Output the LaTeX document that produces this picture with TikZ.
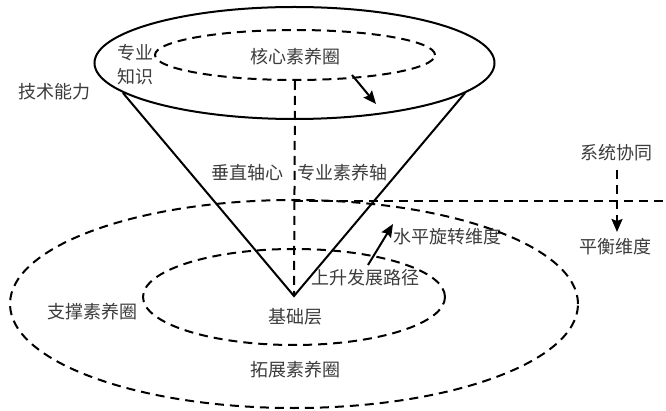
\documentclass[tikz,border=0pt]{standalone}
\usepackage{fontspec}
\setmainfont{Noto Sans CJK SC}
\usetikzlibrary{shapes.geometric,arrows.meta}
\definecolor{txtgray}{HTML}{3C3C3C}
\begin{document}
\begin{tikzpicture}[x=1pt,y=-1pt,
  solidline/.style={line width=2pt,black},
  dashline/.style={line width=2pt,black,dash pattern=on 9pt off 6pt},
  ring/.style={ellipse,inner sep=0pt,draw},
  lbl/.style={font=\fontsize{18}{24}\selectfont,text=txtgray,inner sep=0pt,align=center},
  arr/.style={-{Stealth[length=13pt,width=11pt,inset=2pt]}}
]
\useasboundingbox[fill=white] (0,0) rectangle (666,411);
% rings
\node[ring,solidline,minimum width=400pt,minimum height=112pt] (top) at (294.5,63) {};
\node[ring,dashline,minimum width=280pt,minimum height=50pt] (core) at (295,55) {};
\node[ring,dashline,minimum width=568pt,minimum height=208pt] (outer) at (294,304) {};
\node[ring,dashline,minimum width=302pt,minimum height=96pt] (inner) at (294,297) {};
% cone
\coordinate (apex) at (294,296);
\coordinate (cl) at (123,93);
\coordinate (cr) at (465,93);
\draw[solidline,line join=miter] (cl) -- (apex) -- (cr);
% axes
\draw[dashline] (core.south) -- (apex);
\coordinate (hend) at (666,201);
\draw[dashline] (294,201) -- (hend);
% labels
\node[lbl] (jsnl) at (54,92) {技术能力};
\node[lbl] (zyzs) at (135,65) {专业\\知识};
\node[lbl] (hx) at (295,57) {核心素养圈};
\node[lbl] (czzx) at (247,173) {垂直轴心};
\node[lbl] (zyzy) at (342,173) {专业素养轴};
\node[lbl] (xtxt) at (616,153) {系统协同};
\node[lbl] (phwd) at (615,247) {平衡维度};
\node[lbl] (spxz) at (447,237) {水平旋转维度};
\node[lbl] (sslj) at (365,278) {上升发展路径};
\node[lbl] (jcc) at (295,317) {基础层};
\node[lbl] (zcsy) at (92,312) {支撑素养圈};
\node[lbl] (tzsy) at (295,370) {拓展素养圈};
% arrows
\coordinate (a1s) at (352,75);
\coordinate (a1e) at (376,104);
\draw[solidline,arr] (a1s) -- (a1e);
\coordinate (a2s) at (368,265);
\coordinate (a2e) at (393,224);
\draw[solidline,arr] (a2s) -- (a2e);
\coordinate (a3s) at (617,170);
\coordinate (a3e) at (617,232);
\draw[dashline,arr] (a3s) -- (a3e);
\end{tikzpicture}
\end{document}
